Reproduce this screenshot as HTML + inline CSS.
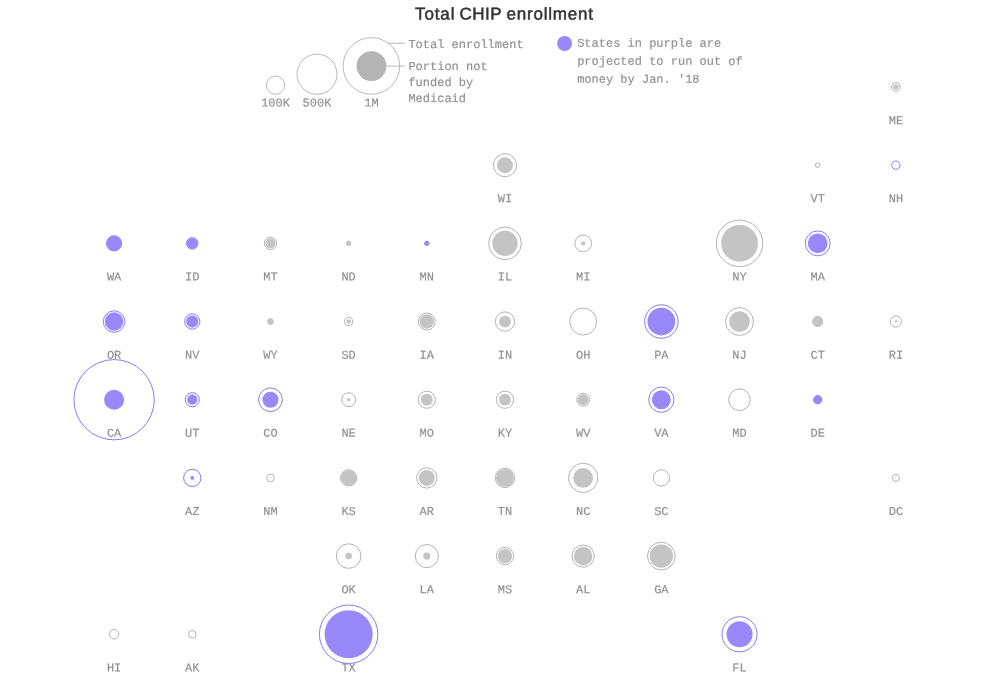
<!DOCTYPE html>
<html lang="en">
<head>
<meta charset="utf-8">
<title>Total CHIP enrollment</title>
<style>
html,body{margin:0;padding:0;background:#fff;}
body{width:1007px;height:687px;overflow:hidden;position:relative;font-family:"Liberation Mono","DejaVu Sans Mono",monospace;}
svg{position:absolute;left:0;top:0;display:block;}
.title{font-family:"Liberation Sans","DejaVu Sans",sans-serif !important;font-size:17px !important;fill:#333 !important;stroke:#333 !important;stroke-width:0.5px !important;}
svg text{font-family:"Liberation Mono","DejaVu Sans Mono",monospace;font-size:12px;fill:#8f8f8f;stroke:#8f8f8f;stroke-width:0.15px;}
.lbl{text-anchor:middle;}
.o{fill:none;stroke-width:1;}
</style>
</head>
<body>
<svg width="1007" height="687" viewBox="0 0 1007 687">

<text class="title" transform="translate(505 19.45) rotate(0.03)"><tspan x="-89.95" style="letter-spacing:0.875px">Total</tspan> <tspan x="-45.5" style="letter-spacing:0.52px">CHIP</tspan> <tspan x="1.5" style="letter-spacing:0.79px">enrollment</tspan></text>
<g class="legend">
<circle class="o" cx="275.55" cy="85.15" r="9.1" stroke="#a8a8a8" style="stroke-width:0.8"/>
<text class="lbl" x="275.55" y="106.6" transform="rotate(0.03 275.55 106.6)">100K</text>
<circle class="o" cx="317" cy="74.20" r="20.05" stroke="#a8a8a8" style="stroke-width:0.8"/>
<text class="lbl" x="317" y="106.6" transform="rotate(0.03 317 106.6)">500K</text>
<circle class="o" cx="371.4" cy="65.95" r="28.3" stroke="#a8a8a8" style="stroke-width:0.8"/>
<text class="lbl" x="371.4" y="106.6" transform="rotate(0.03 371.4 106.6)">1M</text>
<circle cx="371.45" cy="66.1" r="14.9" fill="#b4b4b4"/>
<line x1="387.6" y1="43.2" x2="405" y2="43.2" stroke="#b8b8b8" stroke-width="1"/>
<line x1="386.2" y1="66.1" x2="405" y2="66.1" stroke="#b8b8b8" stroke-width="1"/>
<text x="408.4" y="47.9" transform="rotate(0.03 408.4 47.9)">Total enrollment</text>
<text x="408.4" y="69.9" transform="rotate(0.03 408.4 69.9)">Portion not</text>
<text x="408.4" y="85.9" transform="rotate(0.03 408.4 85.9)">funded by</text>
<text x="408.4" y="101.9" transform="rotate(0.03 408.4 101.9)">Medicaid</text>
<circle cx="564.6" cy="43.4" r="7.5" fill="#9888fa"/>
<text class="note" x="577.15" y="46.8" transform="rotate(0.03 577.15 46.8)">States in purple are</text>
<text class="note" x="577.15" y="64.8" transform="rotate(0.03 577.15 64.8)">projected to run out of</text>
<text class="note" x="577.15" y="82.8" transform="rotate(0.03 577.15 82.8)">money by Jan. '18</text>
</g>
<g class="st">
<circle class="o" cx="895.90" cy="87.00" r="4.35" stroke="#b3b3b3"/>
<circle cx="895.90" cy="87.00" r="2.7" fill="#c4c4c4"/>
<text class="lbl" x="895.90" y="124.15" transform="rotate(0.03 895.90 124.15)">ME</text>
</g>
<g class="st">
<circle class="o" cx="505.00" cy="165.18" r="11.55" stroke="#b3b3b3"/>
<circle cx="505.00" cy="165.18" r="8.0" fill="#c4c4c4"/>
<text class="lbl" x="505.00" y="202.33" transform="rotate(0.03 505.00 202.33)">WI</text>
</g>
<g class="st">
<circle class="o" cx="817.72" cy="165.18" r="2.35" stroke="#b3b3b3"/>
<circle cx="817.72" cy="165.18" r="0.5" fill="#c4c4c4"/>
<text class="lbl" x="817.72" y="202.33" transform="rotate(0.03 817.72 202.33)">VT</text>
</g>
<g class="st">
<circle class="o" cx="895.90" cy="165.18" r="4.15" stroke="#8a78fa"/>
<circle cx="895.90" cy="165.18" r="0.4" fill="#9888fa"/>
<text class="lbl" x="895.90" y="202.33" transform="rotate(0.03 895.90 202.33)">NH</text>
</g>
<g class="st">
<circle class="o" cx="114.10" cy="243.36" r="7.55" stroke="#8a78fa"/>
<circle cx="114.10" cy="243.36" r="7.7" fill="#9888fa"/>
<text class="lbl" x="114.10" y="280.51" transform="rotate(0.03 114.10 280.51)">WA</text>
</g>
<g class="st">
<circle class="o" cx="192.28" cy="243.36" r="5.75" stroke="#8a78fa"/>
<circle cx="192.28" cy="243.36" r="5.4" fill="#9888fa"/>
<text class="lbl" x="192.28" y="280.51" transform="rotate(0.03 192.28 280.51)">ID</text>
</g>
<g class="st">
<circle class="o" cx="270.46" cy="243.36" r="6.15" stroke="#b3b3b3"/>
<circle cx="270.46" cy="243.36" r="5.0" fill="#c4c4c4"/>
<text class="lbl" x="270.46" y="280.51" transform="rotate(0.03 270.46 280.51)">MT</text>
</g>
<g class="st">
<circle class="o" cx="348.64" cy="243.36" r="2.15" stroke="#b3b3b3"/>
<circle cx="348.64" cy="243.36" r="2.3" fill="#c4c4c4"/>
<text class="lbl" x="348.64" y="280.51" transform="rotate(0.03 348.64 280.51)">ND</text>
</g>
<g class="st">
<circle class="o" cx="426.82" cy="243.36" r="2.15" stroke="#8a78fa"/>
<circle cx="426.82" cy="243.36" r="2.3" fill="#9888fa"/>
<text class="lbl" x="426.82" y="280.51" transform="rotate(0.03 426.82 280.51)">MN</text>
</g>
<g class="st">
<circle class="o" cx="505.00" cy="243.36" r="16.35" stroke="#b3b3b3"/>
<circle cx="505.00" cy="243.36" r="12.7" fill="#c4c4c4"/>
<text class="lbl" x="505.00" y="280.51" transform="rotate(0.03 505.00 280.51)">IL</text>
</g>
<g class="st">
<circle class="o" cx="583.18" cy="243.36" r="8.35" stroke="#b3b3b3"/>
<circle cx="583.18" cy="243.36" r="2.2" fill="#c4c4c4"/>
<text class="lbl" x="583.18" y="280.51" transform="rotate(0.03 583.18 280.51)">MI</text>
</g>
<g class="st">
<circle class="o" cx="739.54" cy="243.36" r="23.25" stroke="#b3b3b3"/>
<circle cx="739.54" cy="243.36" r="18.4" fill="#c4c4c4"/>
<text class="lbl" x="739.54" y="280.51" transform="rotate(0.03 739.54 280.51)">NY</text>
</g>
<g class="st">
<circle class="o" cx="817.72" cy="243.36" r="12.45" stroke="#8a78fa"/>
<circle cx="817.72" cy="243.36" r="9.9" fill="#9888fa"/>
<text class="lbl" x="817.72" y="280.51" transform="rotate(0.03 817.72 280.51)">MA</text>
</g>
<g class="st">
<circle class="o" cx="114.10" cy="321.54" r="10.75" stroke="#8a78fa"/>
<circle cx="114.10" cy="321.54" r="9.2" fill="#9888fa"/>
<text class="lbl" x="114.10" y="358.69" transform="rotate(0.03 114.10 358.69)">OR</text>
</g>
<g class="st">
<circle class="o" cx="192.28" cy="321.54" r="7.65" stroke="#8a78fa"/>
<circle cx="192.28" cy="321.54" r="6.1" fill="#9888fa"/>
<text class="lbl" x="192.28" y="358.69" transform="rotate(0.03 192.28 358.69)">NV</text>
</g>
<g class="st">
<circle class="o" cx="270.46" cy="321.54" r="2.85" stroke="#b3b3b3"/>
<circle cx="270.46" cy="321.54" r="3.0" fill="#c4c4c4"/>
<text class="lbl" x="270.46" y="358.69" transform="rotate(0.03 270.46 358.69)">WY</text>
</g>
<g class="st">
<circle class="o" cx="348.64" cy="321.54" r="4.05" stroke="#b3b3b3"/>
<circle cx="348.64" cy="321.54" r="2.3" fill="#c4c4c4"/>
<text class="lbl" x="348.64" y="358.69" transform="rotate(0.03 348.64 358.69)">SD</text>
</g>
<g class="st">
<circle class="o" cx="426.82" cy="321.54" r="8.45" stroke="#b3b3b3"/>
<circle cx="426.82" cy="321.54" r="7.15" fill="#c4c4c4"/>
<text class="lbl" x="426.82" y="358.69" transform="rotate(0.03 426.82 358.69)">IA</text>
</g>
<g class="st">
<circle class="o" cx="505.00" cy="321.54" r="9.65" stroke="#b3b3b3"/>
<circle cx="505.00" cy="321.54" r="5.9" fill="#c4c4c4"/>
<text class="lbl" x="505.00" y="358.69" transform="rotate(0.03 505.00 358.69)">IN</text>
</g>
<g class="st">
<circle class="o" cx="583.18" cy="321.54" r="13.45" stroke="#b3b3b3"/>
<circle cx="583.18" cy="321.54" r="0.3" fill="#c4c4c4"/>
<text class="lbl" x="583.18" y="358.69" transform="rotate(0.03 583.18 358.69)">OH</text>
</g>
<g class="st">
<circle class="o" cx="661.36" cy="321.54" r="16.75" stroke="#8a78fa"/>
<circle cx="661.36" cy="321.54" r="13.9" fill="#9888fa"/>
<text class="lbl" x="661.36" y="358.69" transform="rotate(0.03 661.36 358.69)">PA</text>
</g>
<g class="st">
<circle class="o" cx="739.54" cy="321.54" r="13.95" stroke="#b3b3b3"/>
<circle cx="739.54" cy="321.54" r="10.4" fill="#c4c4c4"/>
<text class="lbl" x="739.54" y="358.69" transform="rotate(0.03 739.54 358.69)">NJ</text>
</g>
<g class="st">
<circle class="o" cx="817.72" cy="321.54" r="4.95" stroke="#b3b3b3"/>
<circle cx="817.72" cy="321.54" r="5.1" fill="#c4c4c4"/>
<text class="lbl" x="817.72" y="358.69" transform="rotate(0.03 817.72 358.69)">CT</text>
</g>
<g class="st">
<circle class="o" cx="895.90" cy="321.54" r="5.55" stroke="#b3b3b3"/>
<circle cx="895.90" cy="321.54" r="1.2" fill="#c4c4c4"/>
<text class="lbl" x="895.90" y="358.69" transform="rotate(0.03 895.90 358.69)">RI</text>
</g>
<g class="st">
<circle class="o" cx="114.10" cy="399.72" r="40.15" stroke="#8a78fa"/>
<circle cx="114.10" cy="399.72" r="10.0" fill="#9888fa"/>
<text class="lbl" x="114.10" y="436.87" transform="rotate(0.03 114.10 436.87)">CA</text>
</g>
<g class="st">
<circle class="o" cx="192.28" cy="399.72" r="7.05" stroke="#8a78fa"/>
<circle cx="192.28" cy="399.72" r="5.1" fill="#9888fa"/>
<text class="lbl" x="192.28" y="436.87" transform="rotate(0.03 192.28 436.87)">UT</text>
</g>
<g class="st">
<circle class="o" cx="270.46" cy="399.72" r="11.85" stroke="#8a78fa"/>
<circle cx="270.46" cy="399.72" r="8.0" fill="#9888fa"/>
<text class="lbl" x="270.46" y="436.87" transform="rotate(0.03 270.46 436.87)">CO</text>
</g>
<g class="st">
<circle class="o" cx="348.64" cy="399.72" r="6.95" stroke="#b3b3b3"/>
<circle cx="348.64" cy="399.72" r="1.8" fill="#c4c4c4"/>
<text class="lbl" x="348.64" y="436.87" transform="rotate(0.03 348.64 436.87)">NE</text>
</g>
<g class="st">
<circle class="o" cx="426.82" cy="399.72" r="8.55" stroke="#b3b3b3"/>
<circle cx="426.82" cy="399.72" r="5.9" fill="#c4c4c4"/>
<text class="lbl" x="426.82" y="436.87" transform="rotate(0.03 426.82 436.87)">MO</text>
</g>
<g class="st">
<circle class="o" cx="505.00" cy="399.72" r="8.60" stroke="#b3b3b3"/>
<circle cx="505.00" cy="399.72" r="5.9" fill="#c4c4c4"/>
<text class="lbl" x="505.00" y="436.87" transform="rotate(0.03 505.00 436.87)">KY</text>
</g>
<g class="st">
<circle class="o" cx="583.18" cy="399.72" r="6.45" stroke="#b3b3b3"/>
<circle cx="583.18" cy="399.72" r="5.35" fill="#c4c4c4"/>
<text class="lbl" x="583.18" y="436.87" transform="rotate(0.03 583.18 436.87)">WV</text>
</g>
<g class="st">
<circle class="o" cx="661.36" cy="399.72" r="12.65" stroke="#8a78fa"/>
<circle cx="661.36" cy="399.72" r="9.45" fill="#9888fa"/>
<text class="lbl" x="661.36" y="436.87" transform="rotate(0.03 661.36 436.87)">VA</text>
</g>
<g class="st">
<circle class="o" cx="739.54" cy="399.72" r="10.80" stroke="#b3b3b3"/>
<circle cx="739.54" cy="399.72" r="0.3" fill="#c4c4c4"/>
<text class="lbl" x="739.54" y="436.87" transform="rotate(0.03 739.54 436.87)">MD</text>
</g>
<g class="st">
<circle class="o" cx="817.72" cy="399.72" r="4.15" stroke="#8a78fa"/>
<circle cx="817.72" cy="399.72" r="4.3" fill="#9888fa"/>
<text class="lbl" x="817.72" y="436.87" transform="rotate(0.03 817.72 436.87)">DE</text>
</g>
<g class="st">
<circle class="o" cx="192.28" cy="477.90" r="8.65" stroke="#8a78fa"/>
<circle cx="192.28" cy="477.90" r="1.9" fill="#9888fa"/>
<text class="lbl" x="192.28" y="515.05" transform="rotate(0.03 192.28 515.05)">AZ</text>
</g>
<g class="st">
<circle class="o" cx="270.46" cy="477.90" r="3.85" stroke="#b3b3b3"/>
<circle cx="270.46" cy="477.90" r="0.4" fill="#c4c4c4"/>
<text class="lbl" x="270.46" y="515.05" transform="rotate(0.03 270.46 515.05)">NM</text>
</g>
<g class="st">
<circle class="o" cx="348.64" cy="477.90" r="8.15" stroke="#b3b3b3"/>
<circle cx="348.64" cy="477.90" r="7.6" fill="#c4c4c4"/>
<text class="lbl" x="348.64" y="515.05" transform="rotate(0.03 348.64 515.05)">KS</text>
</g>
<g class="st">
<circle class="o" cx="426.82" cy="477.90" r="10.15" stroke="#b3b3b3"/>
<circle cx="426.82" cy="477.90" r="8.0" fill="#c4c4c4"/>
<text class="lbl" x="426.82" y="515.05" transform="rotate(0.03 426.82 515.05)">AR</text>
</g>
<g class="st">
<circle class="o" cx="505.00" cy="477.90" r="9.65" stroke="#b3b3b3"/>
<circle cx="505.00" cy="477.90" r="8.9" fill="#c4c4c4"/>
<text class="lbl" x="505.00" y="515.05" transform="rotate(0.03 505.00 515.05)">TN</text>
</g>
<g class="st">
<circle class="o" cx="583.18" cy="477.90" r="14.65" stroke="#b3b3b3"/>
<circle cx="583.18" cy="477.90" r="9.9" fill="#c4c4c4"/>
<text class="lbl" x="583.18" y="515.05" transform="rotate(0.03 583.18 515.05)">NC</text>
</g>
<g class="st">
<circle class="o" cx="661.36" cy="477.90" r="8.15" stroke="#b3b3b3"/>
<circle cx="661.36" cy="477.90" r="0.3" fill="#c4c4c4"/>
<text class="lbl" x="661.36" y="515.05" transform="rotate(0.03 661.36 515.05)">SC</text>
</g>
<g class="st">
<circle class="o" cx="895.90" cy="477.90" r="3.50" stroke="#b3b3b3"/>
<circle cx="895.90" cy="477.90" r="0.6" fill="#c4c4c4"/>
<text class="lbl" x="895.90" y="515.05" transform="rotate(0.03 895.90 515.05)">DC</text>
</g>
<g class="st">
<circle class="o" cx="348.64" cy="556.08" r="12.30" stroke="#b3b3b3"/>
<circle cx="348.64" cy="556.08" r="3.3" fill="#c4c4c4"/>
<text class="lbl" x="348.64" y="593.23" transform="rotate(0.03 348.64 593.23)">OK</text>
</g>
<g class="st">
<circle class="o" cx="426.82" cy="556.08" r="11.55" stroke="#b3b3b3"/>
<circle cx="426.82" cy="556.08" r="3.6" fill="#c4c4c4"/>
<text class="lbl" x="426.82" y="593.23" transform="rotate(0.03 426.82 593.23)">LA</text>
</g>
<g class="st">
<circle class="o" cx="505.00" cy="556.08" r="8.65" stroke="#b3b3b3"/>
<circle cx="505.00" cy="556.08" r="7.15" fill="#c4c4c4"/>
<text class="lbl" x="505.00" y="593.23" transform="rotate(0.03 505.00 593.23)">MS</text>
</g>
<g class="st">
<circle class="o" cx="583.18" cy="556.08" r="11.15" stroke="#b3b3b3"/>
<circle cx="583.18" cy="556.08" r="9.25" fill="#c4c4c4"/>
<text class="lbl" x="583.18" y="593.23" transform="rotate(0.03 583.18 593.23)">AL</text>
</g>
<g class="st">
<circle class="o" cx="661.36" cy="556.08" r="13.85" stroke="#b3b3b3"/>
<circle cx="661.36" cy="556.08" r="11.7" fill="#c4c4c4"/>
<text class="lbl" x="661.36" y="593.23" transform="rotate(0.03 661.36 593.23)">GA</text>
</g>
<g class="st">
<circle class="o" cx="114.10" cy="634.26" r="4.70" stroke="#b3b3b3"/>
<circle cx="114.10" cy="634.26" r="0.3" fill="#c4c4c4"/>
<text class="lbl" x="114.10" y="671.41" transform="rotate(0.03 114.10 671.41)">HI</text>
</g>
<g class="st">
<circle class="o" cx="192.28" cy="634.26" r="3.75" stroke="#b3b3b3"/>
<circle cx="192.28" cy="634.26" r="0.3" fill="#c4c4c4"/>
<text class="lbl" x="192.28" y="671.41" transform="rotate(0.03 192.28 671.41)">AK</text>
</g>
<g class="st">
<circle class="o" cx="348.64" cy="634.26" r="29.25" stroke="#8a78fa"/>
<circle cx="348.64" cy="634.26" r="24.0" fill="#9888fa"/>
<text class="lbl" x="348.64" y="671.41" transform="rotate(0.03 348.64 671.41)">TX</text>
</g>
<g class="st">
<circle class="o" cx="739.54" cy="634.26" r="17.55" stroke="#8a78fa"/>
<circle cx="739.54" cy="634.26" r="13.0" fill="#9888fa"/>
<text class="lbl" x="739.54" y="671.41" transform="rotate(0.03 739.54 671.41)">FL</text>
</g>
</svg>
</body>
</html>
